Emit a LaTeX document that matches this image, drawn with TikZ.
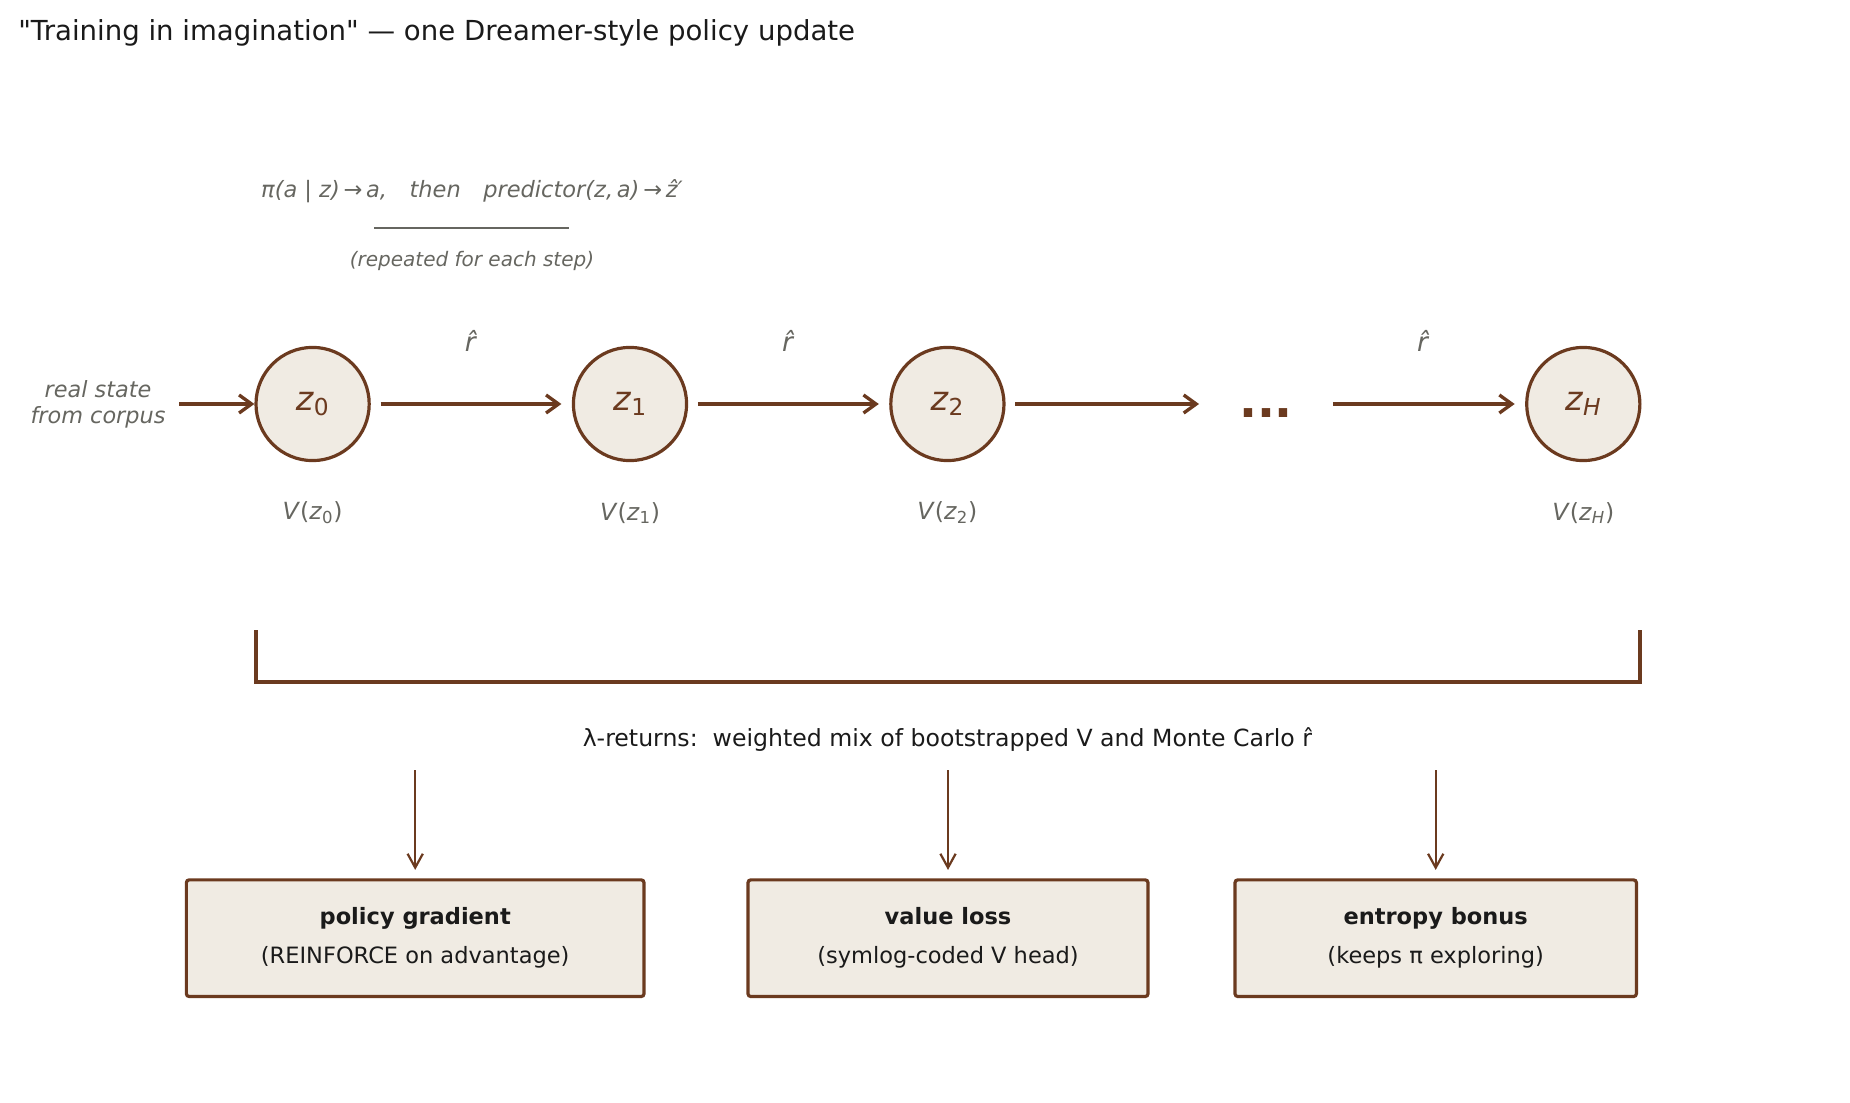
\documentclass[tikz,border=0pt]{standalone}
\usepackage{fontspec}
\setmainfont{DejaVu Sans}
\usetikzlibrary{arrows.meta}
\definecolor{mybrown}{HTML}{6B3A1F}
\definecolor{myfill}{HTML}{F0EBE3}
\definecolor{mygray}{HTML}{666660}
\definecolor{myblack}{HTML}{1A1A1A}
\newcommand{\lowidx}[1]{\textsubscript{#1}}
\tikzset{
	statenode/.style={
			circle,
			draw=mybrown,
			line width=2.3pt,
			fill=myfill,
			text=mybrown,
			minimum size=81.5pt,
			inner sep=0pt,
			font=\fontsize{24}{28}\selectfont
		},
	lossnode/.style={
			rectangle,
			rounded corners=2pt,
			draw=mybrown,
			line width=2.3pt,
			fill=myfill,
			text=myblack,
			align=center,
			minimum height=84pt,
			inner sep=0pt,
			font=\fontsize{16.2}{28}\selectfont
		},
	steparrow/.style={
			draw=mybrown,
			line width=2.4pt,
			-{Straight Barb[length=9pt,width=13pt]}
		},
	downarrow/.style={
			draw=mybrown,
			line width=1.6pt,
			-{Straight Barb[length=10pt,width=11pt]}
		},
	graylabel/.style={text=mygray, font=\fontsize{17}{20}\selectfont}
}

\begin{document}
\begin{tikzpicture}[x=0.72pt, y=-0.72pt]
  \useasboundingbox (0,0) rectangle (1850,1103);

  \node[anchor=west, inner sep=0pt, text=myblack, font=\fontsize{19.85}{23}\selectfont] (title) at (18,33) {\textquotedbl Training in imagination\textquotedbl{} — one Dreamer-style policy update};

  \node[text=mygray, font=\fontsize{16.2}{19}\selectfont\itshape] (rule) at (472,191) {π(a | z)\,→\,a,\quad then\quad predictor(z,\,a)\,→\,\^z′};
  \coordinate (u1) at (374,228);
  \coordinate (u2) at (569,228);
  \draw[mygray, line width=1.2pt] (u1) -- (u2);
  \node[text=mygray, font=\fontsize{14.4}{17}\selectfont\itshape] (note) at (472,261) {(repeated for each step)};

  \node[text=mygray, align=center, font=\fontsize{16.1}{18.7}\selectfont\itshape] (src) at (98,404) {real state\\from corpus};
  \coordinate (in) at (179,404);

  \node[statenode] (m1) at (312.6,404) {\textit{z}\lowidx{0}};
  \node[statenode] (m2) at (630,404) {\textit{z}\lowidx{1}};
  \node[statenode] (m3) at (947.4,404) {\textit{z}\lowidx{2}};
  \node[text=mybrown, inner sep=0pt, minimum width=96pt, font=\fontsize{34}{36}\selectfont\bfseries] (dots) at (1266,413) {...};
  \node[statenode] (m5) at (1583.3,404) {\textit{z}\lowidx{\textit{H}}};

  \draw[steparrow] (in) -- (m1);
  \draw[steparrow, shorten <=7pt, shorten >=7.5pt] (m1) -- (m2);
  \draw[steparrow, shorten <=7pt, shorten >=7.5pt] (m2) -- (m3);
  \draw[steparrow, shorten <=7pt] (m3) -- (m3 -| dots.west);
  \draw[steparrow, shorten >=7.5pt] (dots.east |- m5) -- (m5);

  \node[graylabel, font=\fontsize{19}{22}\selectfont] (r1) at (470.7,341) {\textit{\^r}};
  \node[graylabel, font=\fontsize{19}{22}\selectfont] (r2) at (788,341) {\textit{\^r}};
  \node[graylabel, font=\fontsize{19}{22}\selectfont] (r3) at (1423,341) {\textit{\^r}};

  \node[graylabel] (v1) at (312.6,513) {\textit{V}(\textit{z}\lowidx{0})};
  \node[graylabel] (v2) at (630,513) {\textit{V}(\textit{z}\lowidx{1})};
  \node[graylabel] (v3) at (947.4,513) {\textit{V}(\textit{z}\lowidx{2})};
  \node[graylabel] (v5) at (1583.3,513) {\textit{V}(\textit{z}\lowidx{\textit{H}})};

  \coordinate (b1) at (256,630);
  \coordinate (b2) at (1640,630);
  \draw[mybrown, line width=2.4pt] (b1) -- ++(0,52) -| (b2);

  \node[text=myblack, font=\fontsize{17}{20}\selectfont] (lam) at (947.4,740) {λ-returns:\ \ weighted mix of bootstrapped V and Monte Carlo \^r};

  \node[lossnode, minimum width=329.5pt] (box1) at (415.2,938.2) {\textbf{policy gradient}\\(REINFORCE on advantage)};
  \node[lossnode, minimum width=288pt] (box2) at (948,938.2) {\textbf{value loss}\\(symlog-coded V head)};
  \node[lossnode, minimum width=289pt] (box3) at (1435.7,938.2) {\textbf{entropy bonus}\\(keeps π exploring)};

  \coordinate (s1) at (415.2,770);
  \coordinate (s2) at (948,770);
  \coordinate (s3) at (1435.7,770);
  \draw[downarrow, shorten >=6pt] (s1) -- (box1);
  \draw[downarrow, shorten >=6pt] (s2) -- (box2);
  \draw[downarrow, shorten >=6pt] (s3) -- (box3);

\end{tikzpicture}
\end{document}
